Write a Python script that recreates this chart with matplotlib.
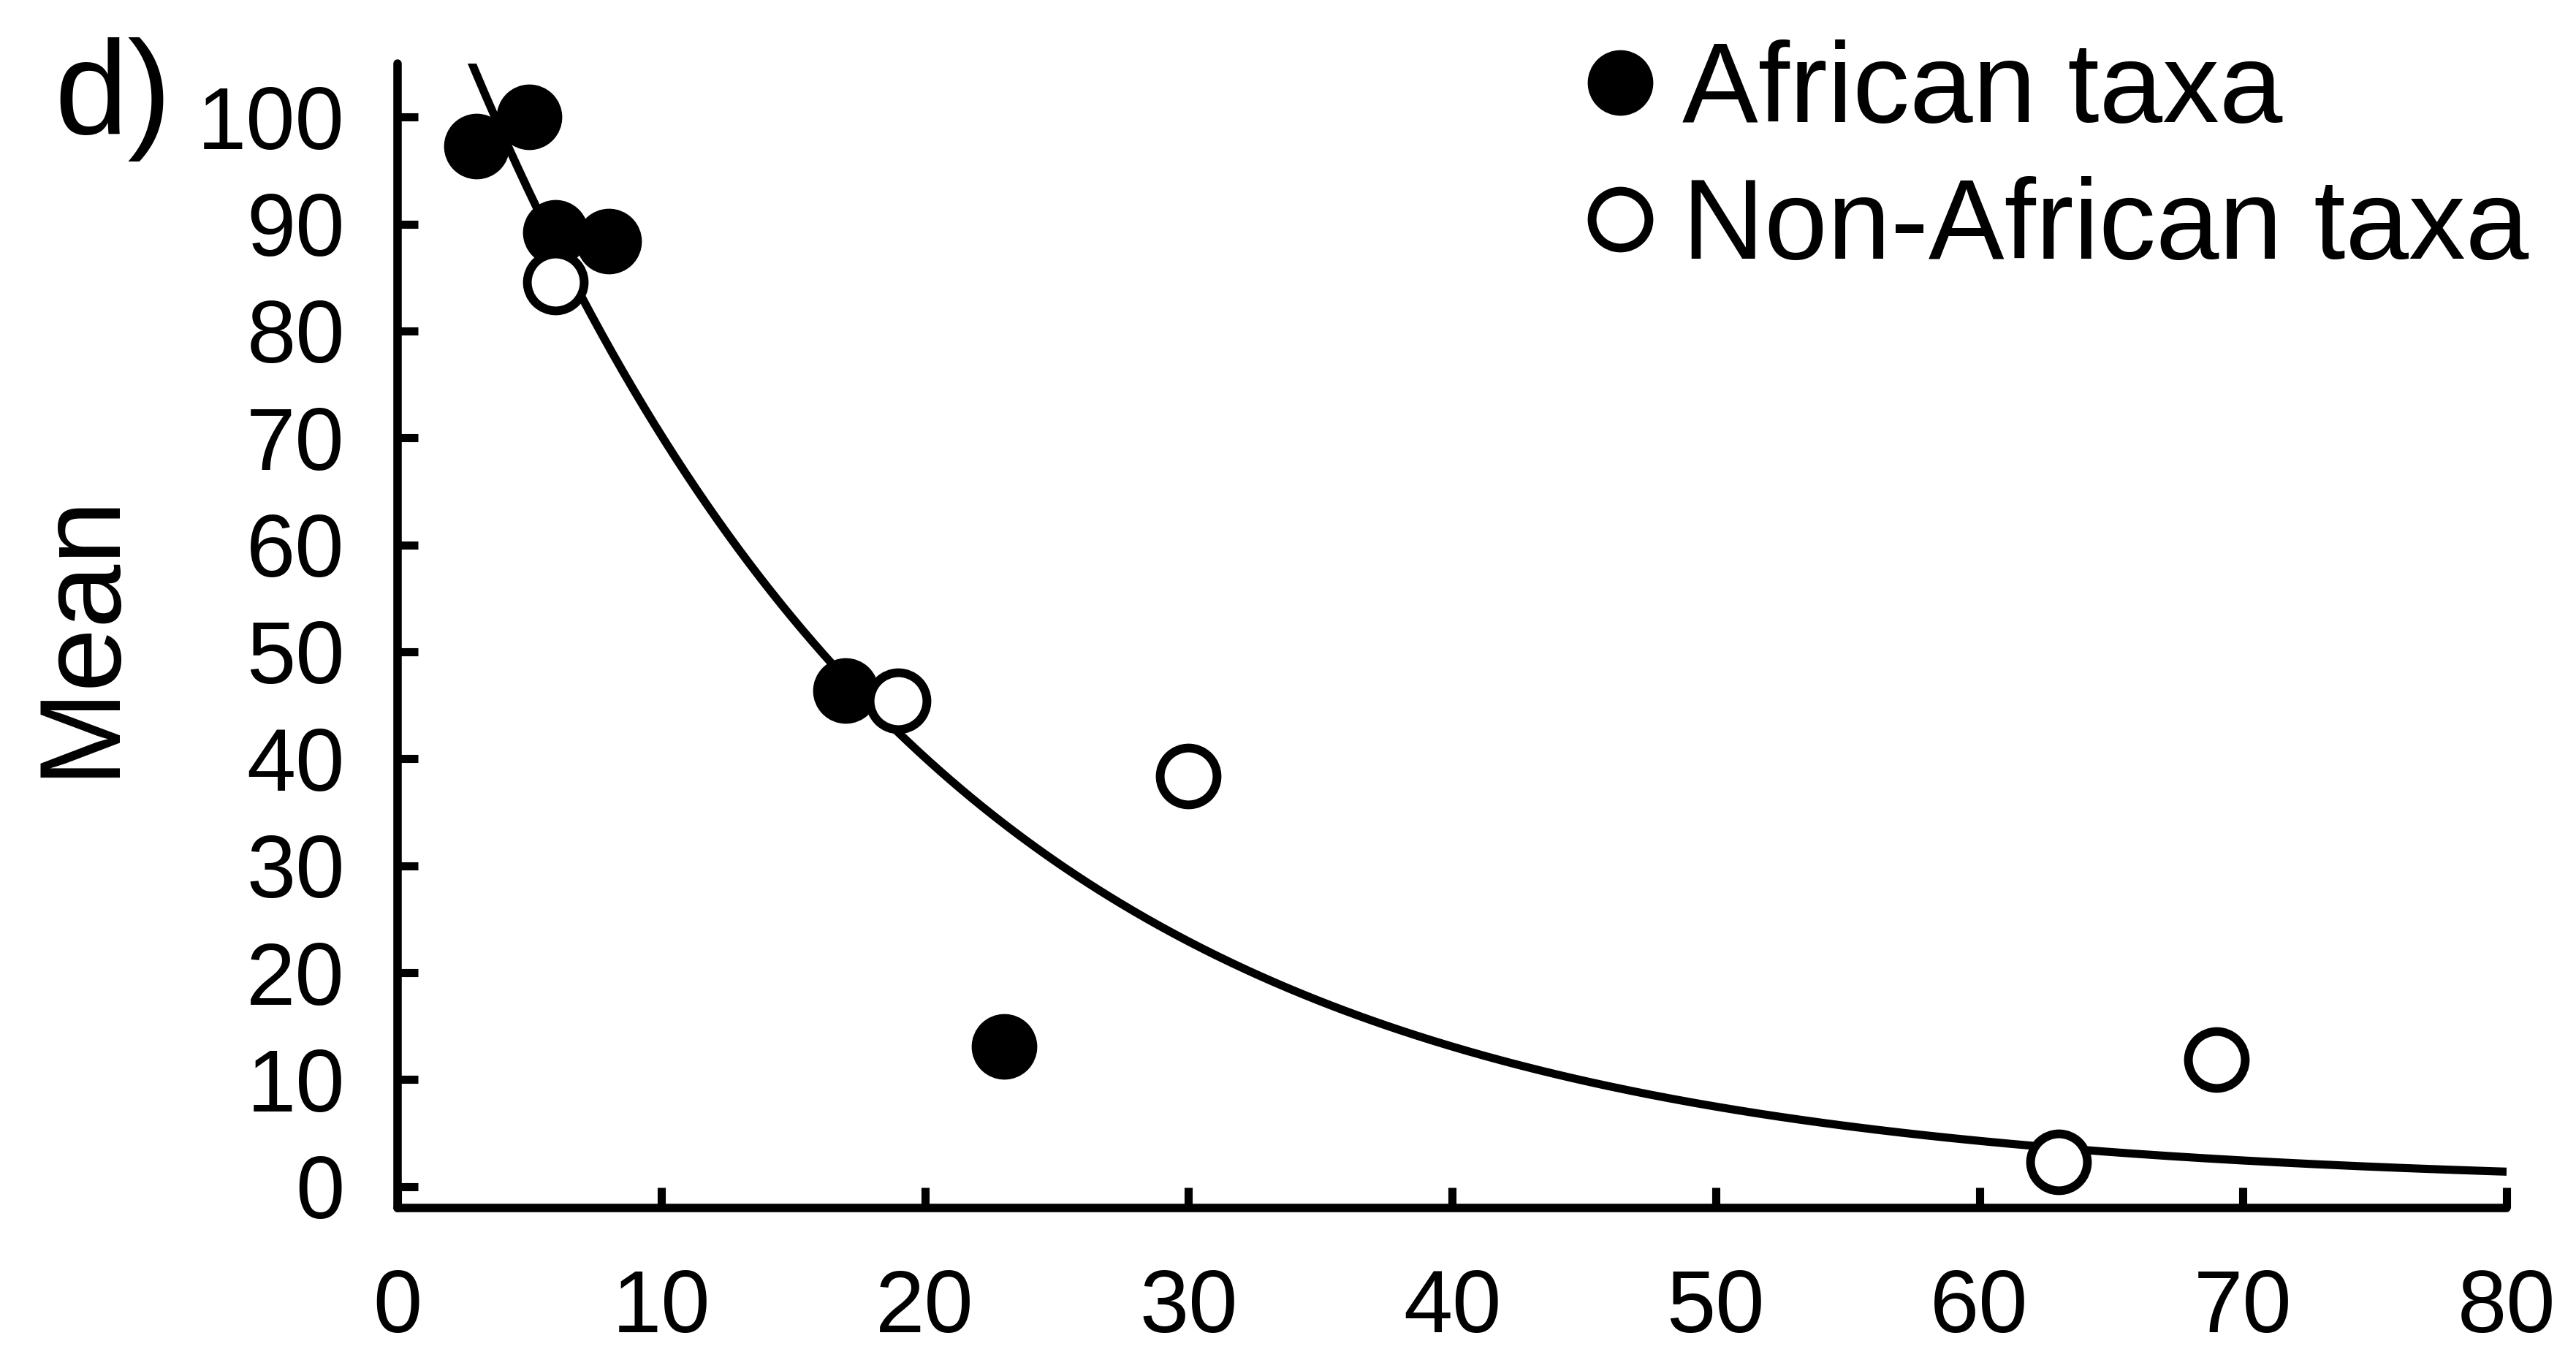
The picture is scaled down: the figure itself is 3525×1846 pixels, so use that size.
import numpy as np
import matplotlib
matplotlib.use("Agg")
import matplotlib.pyplot as plt
from matplotlib.lines import Line2D

plt.rcParams['font.family'] = ['Liberation Sans', 'DejaVu Sans']

# ---- data ----
african_x = [3, 5, 6, 8, 17, 23]
african_y = [97.3, 100.0, 89.2, 88.4, 46.4, 13.1]
nonafrican_x = [6, 19, 30, 63, 69]
nonafrican_y = [84.6, 45.4, 38.4, 2.3, 11.9]
# fitted exponential trend line  y = A * exp(-B * x)
trend_A = 123.0
trend_B = 0.056
x_ticks = [0, 10, 20, 30, 40, 50, 60, 70, 80]
y_ticks = [0, 10, 20, 30, 40, 50, 60, 70, 80, 90, 100]
legend_labels = ["African taxa", "Non-African taxa"]
y_label = "Mean"
panel_label = "d)"

W, H = 3525, 1846
DPI = 100
fig = plt.figure(figsize=(W / DPI, H / DPI), dpi=DPI)
ax = fig.add_axes([544 / W, 1 - 1653 / H, (3430 - 544) / W, (1653 - 87) / H])

ax.set_xlim(0, 80)
ax.set_ylim(-2, 105)

xs = np.linspace(0, 80, 600)
ax.plot(xs, trend_A * np.exp(-trend_B * xs), color='black', lw=8, zorder=2,
        solid_capstyle='butt')

ms = 56
mew = 8.6
ax.plot(african_x, african_y, linestyle='none', marker='o', ms=ms,
        mfc='black', mec='black', mew=mew, zorder=3)
ax.plot(nonafrican_x, nonafrican_y, linestyle='none', marker='o', ms=ms,
        mfc='white', mec='black', mew=mew, zorder=3)

for s in ['top', 'right']:
    ax.spines[s].set_visible(False)
for s in ['left', 'bottom']:
    ax.spines[s].set_linewidth(8.3)
    ax.spines[s].set_capstyle('round')

ax.set_xticks(x_ticks)
ax.set_yticks(y_ticks)
ax.set_xticklabels([str(v) for v in x_ticks])
ax.set_yticklabels([str(v) for v in y_ticks])
ax.tick_params(axis='both', direction='in', length=20, width=8, labelsize=87)
ax.tick_params(axis='y', pad=52)
ax.tick_params(axis='x', pad=60)
for t in ax.xaxis.get_ticklines() + ax.yaxis.get_ticklines():
    t.set_solid_capstyle('round')

fig.text(38 / W, 1 - 868 / H, y_label, rotation=90, ha='left', va='center',
         fontsize=113)
fig.text(74 / W, 1 - 183 / H, panel_label, ha='left', va='baseline',
         fontsize=130)

handles = [
    Line2D([], [], linestyle='none', marker='o', ms=ms, mfc='black',
           mec='black', mew=mew),
    Line2D([], [], linestyle='none', marker='o', ms=ms, mfc='white',
           mec='black', mew=mew),
]
leg = ax.legend(handles, legend_labels, loc='upper left',
                bbox_to_anchor=(2178 / W, 1 - 54 / H),
                bbox_transform=fig.transFigure, frameon=False, fontsize=112,
                handlelength=0.5, handletextpad=0.3, labelspacing=0.27,
                borderpad=0, borderaxespad=0, numpoints=1)

fig.savefig("out.png", dpi=DPI, facecolor='white')
